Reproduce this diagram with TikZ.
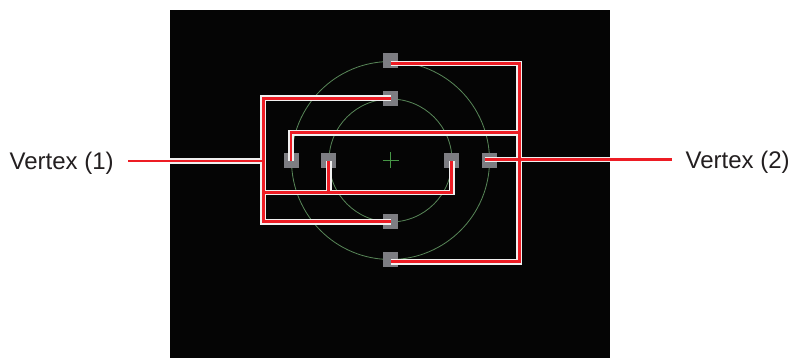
\documentclass[tikz,border=0pt]{standalone}
\usepackage{fontspec}
\setmainfont{Liberation Sans}
\definecolor{panel}{RGB}{5,5,5}
\definecolor{ringc}{RGB}{88,135,88}
\definecolor{crossc}{RGB}{70,150,70}
\definecolor{padc}{RGB}{125,125,130}
\definecolor{wirered}{RGB}{237,28,36}
\definecolor{wireedge}{RGB}{240,240,240}
\definecolor{txt}{RGB}{35,31,32}
\tikzset{
  ring/.style={draw=ringc, line width=0.8pt},
  padbox/.style={rectangle, fill=padc, minimum width=15pt, minimum height=15pt, inner sep=0pt},
  wireo/.style={draw=wireedge, line width=5.8pt, line cap=butt, line join=miter},
  wirei/.style={draw=wirered, line width=2.9pt, line cap=butt, line join=miter},
  lbl/.style={font=\fontsize{24}{28}\selectfont, text=txt, inner sep=0pt}
}
\newcommand\wirenet[1]{%
  \draw[#1] (it.center) -- (lbt) -- (lbb) -- (ib.center);
  \draw[#1] (lbm) -- (irb) -- (ir.center);
  \draw[#1] (ilb) -- (il.center);
  \draw[#1] (otw) -- (rbt) -- (rbb) -- (obw);
  \draw[#1] (rbm) -- (olt) -- (ol.center);
}
\begin{document}
\begin{tikzpicture}[x=1pt,y=-1pt]
\useasboundingbox (0,0) rectangle (792,358);
\fill[white] (0,0) rectangle (792,358);
\fill[panel] (170,10) rectangle (610,358);
% rings and centre mark
\coordinate (ctr) at (390.5,160.5);
\draw[ring] (ctr) circle[radius=99pt];
\draw[ring] (ctr) circle[radius=61.5pt];
\draw[draw=crossc, line width=0.9pt] (382.5,160.5) -- (398.5,160.5) (390.5,152.5) -- (390.5,168.5);
% pads
\node[padbox] (ot) at (390.5,61) {};
\node[padbox] (it) at (390.5,98.3) {};
\node[padbox] (ol) at (291,160.7) {};
\node[padbox] (il) at (328.9,160.7) {};
\node[padbox] (ir) at (451.7,160.7) {};
\node[padbox] (or) at (489.7,160.5) {};
\node[padbox] (ib) at (390.5,221.8) {};
\node[padbox] (ob) at (390.5,259.7) {};
% labels
\node[lbl, anchor=base west] (v1) at (9.5,169.5) {Vertex (1)};
\node[lbl, anchor=base west] (v2) at (685.5,168.6) {Vertex (2)};
% wire bend points
\coordinate (v1e) at (128,161);
\coordinate (v1p) at (170,161);
\coordinate (lbt) at (263.3,98.3);
\coordinate (lbb) at (263.3,221.8);
\coordinate (lbm) at (263.3,192.5);
\coordinate (lbv) at (263.3,161);
\coordinate (irb) at (451.7,192.5);
\coordinate (ilb) at (328.9,192.5);
\coordinate (otw) at (390.5,63.5);
\coordinate (obw) at (390.5,261.7);
\coordinate (rbt) at (519.3,63.5);
\coordinate (rbb) at (519.3,261.7);
\coordinate (rbm) at (519.3,132.7);
\coordinate (olt) at (291,132.7);
\coordinate (orw) at (485,159.5);
\coordinate (v2p) at (610,159.5);
\coordinate (v2e) at (672,159.5);
% outline only inside the dark panel
\wirenet{wireo}
\draw[wireo] (v1p) -- (lbv);
\draw[wireo] (orw) -- (v2p);
\wirenet{wirei}
\draw[wirei, line width=2.4pt] (v1e) -- (v1p);
\draw[wirei] (v1p) -- (lbv);
\draw[wirei] (orw) -- (v2p);
\draw[wirei, line width=2.4pt] (v2p) -- (v2e);
\end{tikzpicture}
\end{document}
